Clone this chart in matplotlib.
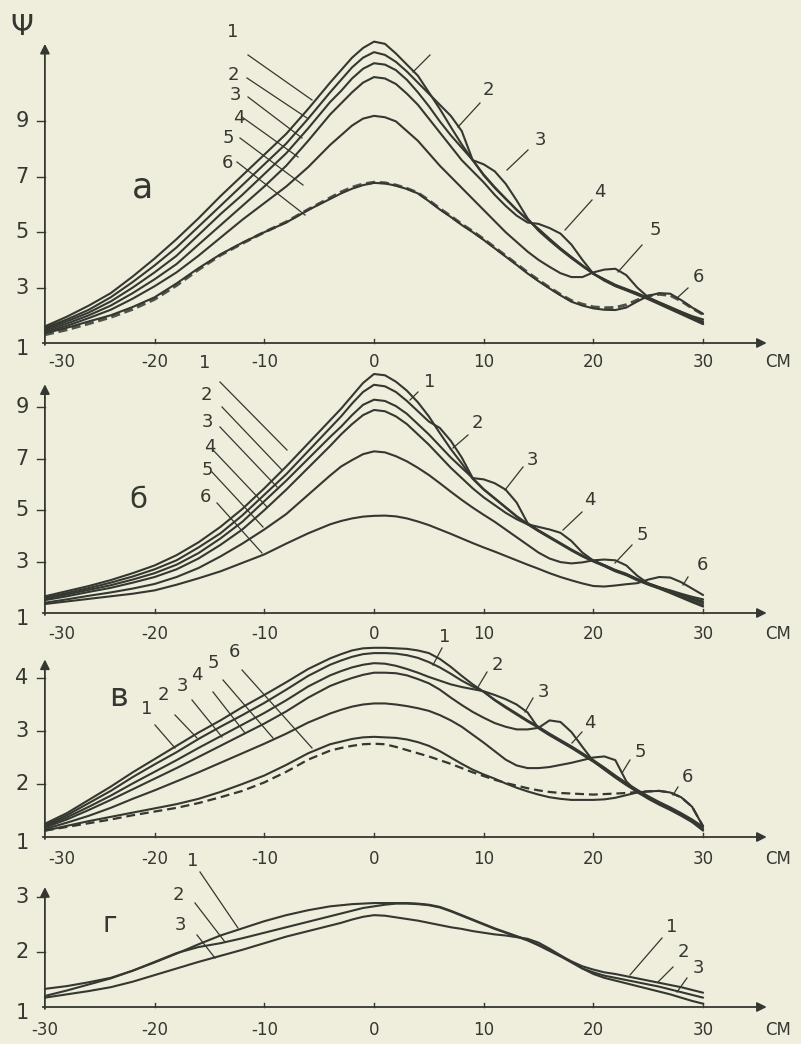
import matplotlib
matplotlib.use('Agg')
import matplotlib.pyplot as plt
from matplotlib import font_manager

PAPER = '#efeddc'
INK = '#343830'

names = {f.name for f in font_manager.fontManager.ttflist}
FONT = 'Liberation Sans Narrow' if 'Liberation Sans Narrow' in names else 'DejaVu Sans'
plt.rcParams['font.family'] = [FONT, 'DejaVu Sans']

# x positions, cm
X = [-30, -28, -26, -24, -22, -20, -18, -16, -14, -12, -10, -8, -6, -4, -3, -2, -1,
     0, 1, 2, 3, 4, 5, 6, 7, 8, 9, 10, 11, 12, 13, 14, 15,
     16, 17, 18, 19, 20, 21, 22, 23, 24, 25, 26, 27, 28, 29, 30]

# ---- panel a ----
a1 = [1.6, 1.95, 2.35, 2.8, 3.4, 4.05, 4.75, 5.5, 6.3, 7.05, 7.8, 8.55, 9.45, 10.4, 10.85, 11.3, 11.65,
      11.88, 11.8, 11.45, 11.05, 10.65, 10.05, 9.45, 8.8, 8.17, 7.6, 7.05, 6.6, 6.2, 5.8, 5.45, 5.1,
      4.75, 4.4, 4.1, 3.8, 3.5, 3.3, 3.1, 2.95, 2.8, 2.62, 2.45, 2.28, 2.1, 1.9, 1.72]
a2 = [1.55, 1.85, 2.2, 2.65, 3.2, 3.8, 4.45, 5.2, 5.95, 6.7, 7.45, 8.2, 9.1, 10.05, 10.5, 10.95, 11.3,
      11.5, 11.4, 11.15, 10.8, 10.4, 10.0, 9.6, 9.2, 8.65, 7.6, 7.08, 6.63, 6.22, 5.82, 5.45, 5.12,
      4.76, 4.42, 4.1, 3.8, 3.5, 3.29, 3.09, 2.93, 2.78, 2.6, 2.43, 2.26, 2.07, 1.88, 1.7]
a3 = [1.5, 1.78, 2.1, 2.5, 3.0, 3.55, 4.15, 4.9, 5.65, 6.35, 7.1, 7.85, 8.75, 9.7, 10.1, 10.55, 10.9,
      11.1, 11.05, 10.85, 10.5, 10.05, 9.55, 9.0, 8.5, 8.05, 7.6, 7.45, 7.2, 6.75, 6.15, 5.5, 5.05,
      4.7, 4.37, 4.06, 3.77, 3.5, 3.27, 3.07, 2.92, 2.76, 2.62, 2.45, 2.28, 2.1, 1.93, 1.78]
a4 = [1.45, 1.7, 2.0, 2.35, 2.8, 3.3, 3.85, 4.55, 5.25, 5.95, 6.65, 7.4, 8.3, 9.25, 9.65, 10.05, 10.4,
      10.6, 10.55, 10.35, 10.0, 9.6, 9.1, 8.6, 8.1, 7.6, 7.2, 6.8, 6.35, 5.95, 5.6, 5.35, 5.3,
      5.15, 4.95, 4.55, 4.0, 3.5, 3.25, 3.05, 2.9, 2.74, 2.58, 2.4, 2.22, 2.04, 1.86, 1.68]
a5 = [1.4, 1.62, 1.9, 2.2, 2.6, 3.05, 3.55, 4.15, 4.8, 5.45, 6.05, 6.65, 7.35, 8.15, 8.5, 8.85, 9.1,
      9.2, 9.15, 9.0, 8.65, 8.3, 7.85, 7.4, 7.0, 6.6, 6.2, 5.8, 5.4, 5.0, 4.65, 4.3, 4.0,
      3.75, 3.52, 3.38, 3.38, 3.55, 3.65, 3.68, 3.45, 3.0, 2.65, 2.47, 2.3, 2.13, 1.97, 1.85]
a6 = [1.35, 1.55, 1.78, 2.0, 2.3, 2.65, 3.15, 3.7, 4.2, 4.62, 5.0, 5.35, 5.8, 6.2, 6.4, 6.57, 6.7,
      6.78, 6.76, 6.68, 6.56, 6.4, 6.12, 5.82, 5.55, 5.26, 5.0, 4.72, 4.42, 4.12, 3.82, 3.51, 3.23,
      2.97, 2.72, 2.49, 2.35, 2.25, 2.2, 2.19, 2.28, 2.5, 2.7, 2.8, 2.78, 2.55, 2.28, 2.05]
a6_dash = [1.3, 1.48, 1.7, 1.93, 2.22, 2.58, 3.08, 3.65, 4.17, 4.6, 5.0, 5.37, 5.82, 6.24, 6.45, 6.62, 6.74,
           6.8, 6.78, 6.7, 6.58, 6.42, 6.15, 5.85, 5.58, 5.29, 5.03, 4.75, 4.45, 4.15, 3.85, 3.55, 3.27,
           3.0, 2.75, 2.53, 2.4, 2.3, 2.27, 2.28, 2.38, 2.55, 2.7, 2.76, 2.72, 2.52, 2.26, 2.03]

# ---- panel b ----
b1 = [1.65, 1.85, 2.05, 2.28, 2.55, 2.85, 3.25, 3.75, 4.35, 5.05, 5.85, 6.7, 7.6, 8.5, 8.95, 9.45, 9.95,
      10.3, 10.25, 10.0, 9.65, 9.2, 8.65, 8.0, 7.38, 6.82, 6.22, 5.8, 5.45, 5.1, 4.75, 4.45, 4.18,
      3.93, 3.68, 3.43, 3.2, 3.0, 2.82, 2.62, 2.47, 2.27, 2.1, 1.95, 1.78, 1.6, 1.42, 1.25]
b2 = [1.6, 1.78, 1.97, 2.18, 2.42, 2.7, 3.05, 3.55, 4.1, 4.8, 5.6, 6.4, 7.3, 8.2, 8.65, 9.15, 9.6,
      9.88, 9.82, 9.6, 9.25, 8.85, 8.45, 8.2, 7.7, 7.05, 6.25, 5.82, 5.47, 5.12, 4.77, 4.47, 4.2,
      3.95, 3.7, 3.45, 3.22, 3.02, 2.84, 2.64, 2.49, 2.29, 2.12, 1.97, 1.8, 1.63, 1.46, 1.3]
b3 = [1.55, 1.72, 1.9, 2.08, 2.3, 2.55, 2.88, 3.33, 3.9, 4.55, 5.35, 6.15, 7.0, 7.85, 8.25, 8.7, 9.1,
      9.3, 9.25, 9.05, 8.75, 8.35, 7.95, 7.5, 7.05, 6.65, 6.25, 6.2, 6.05, 5.8, 5.3, 4.5, 4.22,
      3.97, 3.72, 3.47, 3.24, 3.04, 2.86, 2.67, 2.52, 2.32, 2.15, 2.0, 1.84, 1.68, 1.53, 1.38]
b4 = [1.5, 1.65, 1.82, 1.98, 2.18, 2.4, 2.7, 3.12, 3.65, 4.25, 5.0, 5.8, 6.65, 7.5, 7.95, 8.35, 8.7,
      8.9, 8.85, 8.65, 8.35, 7.95, 7.55, 7.1, 6.65, 6.25, 5.85, 5.5, 5.2, 4.9, 4.65, 4.45, 4.35,
      4.25, 4.12, 3.8, 3.35, 3.04, 2.86, 2.67, 2.52, 2.32, 2.15, 2.0, 1.86, 1.7, 1.57, 1.45]
b5 = [1.4, 1.53, 1.67, 1.8, 1.95, 2.13, 2.4, 2.75, 3.2, 3.7, 4.25, 4.85, 5.6, 6.35, 6.7, 6.95, 7.18,
      7.29, 7.25, 7.1, 6.9, 6.65, 6.37, 6.05, 5.72, 5.4, 5.1, 4.82, 4.55, 4.25, 3.95, 3.65, 3.35,
      3.12, 2.98, 2.93, 2.97, 3.05, 3.08, 3.05, 2.85, 2.45, 2.15, 2.0, 1.88, 1.75, 1.63, 1.53]
b6 = [1.35, 1.45, 1.55, 1.65, 1.75, 1.88, 2.1, 2.35, 2.62, 2.95, 3.28, 3.7, 4.1, 4.45, 4.58, 4.68, 4.75,
      4.78, 4.79, 4.76, 4.68, 4.56, 4.42, 4.25, 4.08, 3.9, 3.72, 3.55, 3.39, 3.22, 3.05, 2.88, 2.72,
      2.55, 2.4, 2.27, 2.15, 2.05, 2.03, 2.07, 2.12, 2.16, 2.3, 2.4, 2.38, 2.2, 1.95, 1.7]

# ---- panel c ----
c1 = [1.25, 1.45, 1.7, 1.95, 2.22, 2.47, 2.72, 2.97, 3.2, 3.45, 3.68, 3.92, 4.17, 4.37, 4.45, 4.52, 4.56,
      4.57, 4.57, 4.56, 4.55, 4.52, 4.47, 4.36, 4.21, 4.04, 3.88, 3.74, 3.58, 3.44, 3.31, 3.18, 3.06,
      2.93, 2.81, 2.69, 2.56, 2.43, 2.29, 2.14, 2.0, 1.87, 1.75, 1.64, 1.54, 1.43, 1.3, 1.15]
c2 = [1.22, 1.41, 1.64, 1.87, 2.13, 2.37, 2.6, 2.85, 3.08, 3.3, 3.53, 3.78, 4.04, 4.25, 4.33, 4.4, 4.45,
      4.47, 4.47, 4.46, 4.43, 4.38, 4.3, 4.2, 4.08, 3.95, 3.84, 3.74, 3.59, 3.46, 3.33, 3.2, 3.08,
      2.95, 2.83, 2.71, 2.58, 2.45, 2.31, 2.16, 2.02, 1.89, 1.77, 1.66, 1.56, 1.45, 1.33, 1.19]
c3 = [1.2, 1.37, 1.57, 1.78, 2.01, 2.23, 2.45, 2.68, 2.9, 3.12, 3.34, 3.58, 3.84, 4.05, 4.13, 4.2, 4.25,
      4.28, 4.27, 4.23, 4.17, 4.1, 4.02, 3.95, 3.88, 3.83, 3.79, 3.75, 3.68, 3.6, 3.5, 3.35, 3.05,
      2.92, 2.8, 2.68, 2.55, 2.42, 2.28, 2.13, 1.99, 1.86, 1.74, 1.63, 1.53, 1.42, 1.3, 1.13]
c4 = [1.18, 1.33, 1.51, 1.7, 1.9, 2.1, 2.3, 2.51, 2.72, 2.93, 3.14, 3.37, 3.63, 3.85, 3.93, 4.0, 4.06,
      4.1, 4.1, 4.09, 4.05, 3.98, 3.9, 3.78, 3.63, 3.49, 3.36, 3.25, 3.15, 3.08, 3.03, 3.03, 3.06,
      3.2, 3.17, 2.98, 2.7, 2.43, 2.27, 2.12, 1.98, 1.85, 1.72, 1.61, 1.51, 1.4, 1.28, 1.12]
c5 = [1.15, 1.27, 1.4, 1.55, 1.72, 1.88, 2.05, 2.22, 2.4, 2.58, 2.76, 2.95, 3.16, 3.33, 3.4, 3.46, 3.5,
      3.52, 3.52, 3.5, 3.47, 3.43, 3.38, 3.3, 3.2, 3.08, 2.93, 2.78, 2.62, 2.46, 2.35, 2.3, 2.3,
      2.32, 2.36, 2.4, 2.45, 2.5, 2.52, 2.45, 2.05, 1.84, 1.74, 1.63, 1.53, 1.42, 1.3, 1.14]
c6 = [1.12, 1.21, 1.3, 1.38, 1.46, 1.54, 1.62, 1.72, 1.85, 2.0, 2.16, 2.36, 2.58, 2.75, 2.8, 2.85, 2.88,
      2.89, 2.88, 2.87, 2.84, 2.79, 2.72, 2.62, 2.5, 2.38, 2.27, 2.18, 2.1, 2.01, 1.93, 1.86, 1.8,
      1.75, 1.72, 1.7, 1.7, 1.7, 1.71, 1.74, 1.79, 1.84, 1.86, 1.87, 1.84, 1.75, 1.57, 1.2]
c6_dash = [1.12, 1.19, 1.26, 1.33, 1.41, 1.48, 1.55, 1.64, 1.75, 1.87, 2.03, 2.23, 2.46, 2.63, 2.68, 2.72, 2.75,
           2.76, 2.75, 2.7, 2.64, 2.58, 2.52, 2.45, 2.38, 2.3, 2.22, 2.15, 2.08, 2.02, 1.97, 1.92, 1.88,
           1.85, 1.83, 1.82, 1.81, 1.8, 1.81, 1.82, 1.83, 1.85, 1.86, 1.87, 1.84, 1.75, 1.57, 1.2]

# ---- panel d ----
d1 = [1.33, 1.38, 1.45, 1.53, 1.66, 1.81, 1.97, 2.14, 2.3, 2.43, 2.56, 2.67, 2.76, 2.83, 2.85, 2.87, 2.88,
      2.89, 2.89, 2.89, 2.89, 2.88, 2.86, 2.82, 2.75, 2.67, 2.59, 2.51, 2.43, 2.36, 2.29, 2.22, 2.13,
      2.03, 1.93, 1.83, 1.74, 1.68, 1.63, 1.6, 1.56, 1.52, 1.48, 1.44, 1.4, 1.36, 1.31, 1.26]
d2 = [1.2, 1.3, 1.41, 1.52, 1.66, 1.82, 1.98, 2.09, 2.16, 2.25, 2.35, 2.45, 2.55, 2.65, 2.7, 2.75, 2.8,
      2.83, 2.86, 2.88, 2.88, 2.87, 2.85, 2.81, 2.74, 2.66, 2.58, 2.5, 2.42, 2.35, 2.28, 2.21, 2.12,
      2.02, 1.92, 1.81, 1.7, 1.63, 1.57, 1.53, 1.49, 1.45, 1.41, 1.37, 1.32, 1.27, 1.22, 1.17]
d3 = [1.17, 1.23, 1.29, 1.36, 1.46, 1.58, 1.7, 1.82, 1.93, 2.04, 2.16, 2.28, 2.38, 2.48, 2.53, 2.59, 2.64,
      2.67, 2.66, 2.63, 2.6, 2.57, 2.53, 2.49, 2.45, 2.42, 2.38, 2.35, 2.32, 2.3, 2.27, 2.24, 2.17,
      2.06, 1.94, 1.82, 1.7, 1.6, 1.53, 1.48, 1.43, 1.38, 1.33, 1.28, 1.23, 1.17, 1.11, 1.06]

x_ticks = [-30, -20, -10, 0, 10, 20, 30]
x_tick_text = ['-30', '-20', '-10', '0', '10', '20', '30']

W, H = 801, 1044
X0_PX, PX_CM = 374, 10.97      # pixel of x = 0, pixels per cm

panels = [
    dict(curves=[a1, a2, a3, a4, a5, a6], dash=a6_dash, yticks=[1, 3, 5, 7, 9],
         base=343, scale=27.7, top=0, bottom=372, arrow=11.8, xlab_py=362),
    dict(curves=[b1, b2, b3, b4, b5, b6], dash=None, yticks=[1, 3, 5, 7, 9],
         base=613, scale=25.7, top=372, bottom=645, arrow=9.9, xlab_py=634),
    dict(curves=[c1, c2, c3, c4, c5, c6], dash=c6_dash, yticks=[1, 2, 3, 4],
         base=837, scale=53.0, top=645, bottom=868, arrow=4.35, xlab_py=859),
    dict(curves=[d1, d2, d3], dash=None, yticks=[1, 2, 3],
         base=1007, scale=55.0, top=868, bottom=1044, arrow=3.18, xlab_py=1030),
]

fig = plt.figure(figsize=(W / 100, H / 100), dpi=100, facecolor=PAPER)

xmin = (0 - X0_PX) / PX_CM
xmax = (W - X0_PX) / PX_CM

for i, p in enumerate(panels):
    ax = fig.add_axes([0, 1 - p['bottom'] / H, 1, (p['bottom'] - p['top']) / H])
    ax.set_facecolor('none')
    ax.set_axis_off()
    ax.set_xlim(xmin, xmax)
    ylo = 1 + (p['base'] - p['bottom']) / p['scale']
    yhi = 1 + (p['base'] - p['top']) / p['scale']
    ax.set_ylim(ylo, yhi)
    px = 1 / p['scale']   # one pixel in y units

    for ys in p['curves']:
        ax.plot(X, ys, color=INK, lw=1.5, solid_joinstyle='round', solid_capstyle='round')
    if p['dash'] is not None:
        if i == 0:
            ax.plot(X, p['dash'], color=INK, lw=2.2, ls=(0, (3, 1.5)), alpha=0.85)
        else:
            ax.plot(X, p['dash'], color=INK, lw=1.6, ls=(0, (4, 2.2)))

    # axes with arrows
    ax.annotate('', xy=(-30, p['arrow']), xytext=(-30, 1 - 2 * px),
                arrowprops=dict(arrowstyle='-|>', color=INK, lw=1.3, mutation_scale=14,
                                shrinkA=0, shrinkB=0))
    ax.annotate('', xy=(35.8, 1), xytext=(-30.2, 1),
                arrowprops=dict(arrowstyle='-|>', color=INK, lw=1.3, mutation_scale=14,
                                shrinkA=0, shrinkB=0))
    for v in p['yticks'][1:]:
        ax.plot([-30.7, -30], [v, v], color=INK, lw=1.0)
    for xt in x_ticks[1:]:
        ax.plot([xt, xt], [1, 1 + 4 * px], color=INK, lw=1.0)

    # tick labels
    for v in p['yticks']:
        dy = -6 * px if v == 1 else 0
        ax.text(-32.1, v + dy, str(v), fontsize=15, color=INK, ha='center', va='center')
    ylab = 1 + (p['base'] - p['xlab_py']) / p['scale']
    for xt, t in zip(x_ticks, x_tick_text):
        xx = xt + (1.5 if xt == -30 and i < 3 else 0)
        ax.text(xx, ylab, t, fontsize=12, color=INK, ha='center', va='center')
    ax.text(36.8, ylab, 'СМ', fontsize=12, color=INK, ha='center', va='center')

# overlay for curve numbers, panel letters and leader lines (pixel coordinates)
ov = fig.add_axes([0, 0, 1, 1])
ov.set_facecolor('none')
ov.set_axis_off()
ov.set_xlim(0, W)
ov.set_ylim(H, 0)

ov.text(22, 27, 'Ψ', fontsize=21, color=INK, ha='center', va='center')
ov.text(143, 188, 'а', fontsize=25, color=INK, ha='center', va='center')
ov.text(138, 500, 'б', fontsize=21, color=INK, ha='center', va='center')
ov.text(118, 697, 'в', fontsize=23, color=INK, ha='center', va='center')
ov.text(110, 924, 'г', fontsize=20, color=INK, ha='center', va='center')

labels = [
    # panel a, left
    ('1', 233, 32, 248, 55, 312, 100), ('2', 233, 75, 247, 78, 307, 118),
    ('3', 235, 95, 248, 97, 302, 138), ('4', 239, 118, 242, 117, 298, 157),
    ('5', 228, 138, 240, 138, 303, 185), ('6', 227, 163, 237, 162, 305, 215),
    # panel a, right
    ('', 0, 0, 430, 55, 413, 72),
    ('2', 488, 90, 480, 103, 458, 127), ('3', 540, 140, 528, 150, 507, 170),
    ('4', 600, 192, 592, 200, 565, 230), ('5', 655, 230, 642, 245, 618, 272),
    ('6', 698, 277, 688, 288, 677, 298),
    # panel b, left
    ('1', 205, 363, 220, 382, 287, 450), ('2', 206, 395, 222, 407, 282, 470),
    ('3', 207, 422, 220, 427, 277, 487), ('4', 210, 447, 213, 450, 267, 507),
    ('5', 207, 470, 212, 472, 263, 527), ('6', 205, 497, 217, 503, 262, 553),
    # panel b, right
    ('1', 430, 382, 418, 392, 410, 400), ('2', 477, 423, 468, 435, 453, 448),
    ('3', 532, 460, 523, 467, 505, 490), ('4', 590, 500, 582, 512, 563, 530),
    ('5', 642, 535, 632, 545, 615, 563), ('6', 702, 565, 688, 577, 683, 585),
    # panel c, left
    ('1', 147, 709, 155, 725, 175, 748), ('2', 163, 695, 175, 715, 197, 738),
    ('3', 182, 686, 192, 700, 222, 737), ('4', 197, 675, 213, 692, 245, 733),
    ('5', 213, 663, 223, 680, 273, 738), ('6', 234, 652, 242, 670, 312, 748),
    # panel c, right
    ('1', 445, 637, 442, 648, 433, 665), ('2', 497, 665, 487, 672, 478, 687),
    ('3', 543, 692, 533, 698, 525, 712), ('4', 590, 723, 582, 732, 572, 743),
    ('5', 640, 752, 630, 760, 622, 773), ('6', 687, 777, 678, 787, 673, 795),
    # panel d
    ('1', 193, 861, 200, 872, 238, 928), ('2', 178, 895, 195, 903, 225, 942),
    ('3', 180, 925, 197, 935, 215, 958),
    ('1', 672, 927, 662, 938, 630, 975), ('2', 683, 952, 673, 967, 658, 982),
    ('3', 698, 968, 687, 978, 677, 992),
]
for t, tx, ty, x0, y0, x1, y1 in labels:
    if t:
        ov.text(tx, ty, t, fontsize=13, color=INK, ha='center', va='center')
    ov.plot([x0, x1], [y0, y1], color=INK, lw=0.9)

fig.savefig('out.png', dpi=100, facecolor=PAPER)
